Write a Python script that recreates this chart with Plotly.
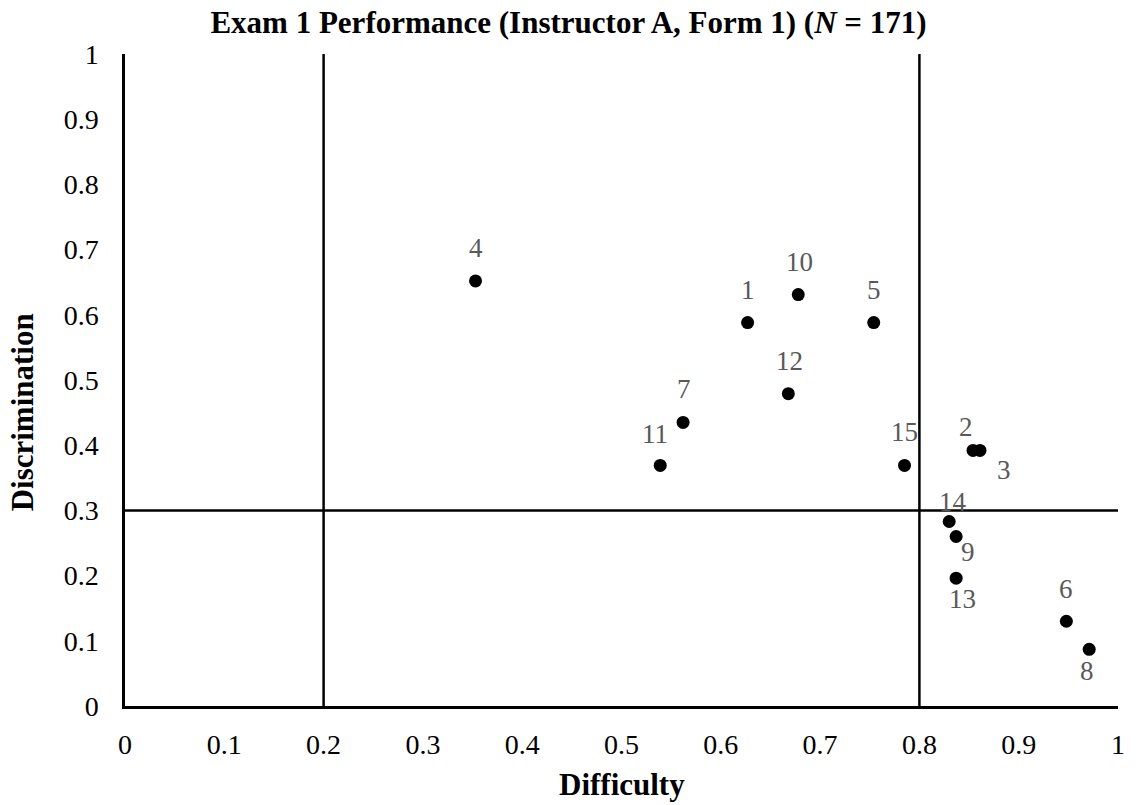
import plotly.graph_objects as go

# Item statistics for Exam 1 (Instructor A, Form 1)
items = ["1", "2", "3", "4", "5", "6", "7", "8", "9", "10", "11", "12", "13", "14", "15"]
difficulty = [0.627, 0.854, 0.861, 0.353, 0.754, 0.948, 0.562, 0.971, 0.837, 0.678,
              0.539, 0.668, 0.837, 0.830, 0.785]
discrimination = [0.588, 0.392, 0.392, 0.652, 0.588, 0.130, 0.435, 0.087, 0.260, 0.631,
                  0.369, 0.479, 0.196, 0.283, 0.369]

# Reference cut-offs
difficulty_cuts = [0.2, 0.8]
discrimination_cut = 0.3

# Label offsets (pixels) for each item number
label_dx = [0, -7, 24, 0, 0, 0, 1, -2, 12, 1, -5, 1, 6, 4, 0]
label_dy = [33, 23, -20, 33, 33, 32, 33, -22, -16, 33, 31, 33, -21, 19, 33]

FONT = "Liberation Serif, Times New Roman, serif"
TICK_SIZE = 28
TITLE_SIZE = 31

fig = go.Figure()

fig.add_trace(go.Scatter(
    x=difficulty, y=discrimination, mode="markers",
    marker=dict(color="black", size=13),
    hoverinfo="text", text=items, showlegend=False,
))

for lab, xv, yv, dx, dy in zip(items, difficulty, discrimination, label_dx, label_dy):
    fig.add_annotation(x=xv, y=yv, text=lab, showarrow=False,
                       xshift=dx, yshift=dy,
                       font=dict(family=FONT, size=27, color="#595959"))

for c in difficulty_cuts:
    fig.add_shape(type="line", xref="x", yref="y", x0=c, x1=c, y0=0, y1=1,
                  line=dict(color="black", width=2.5))
fig.add_shape(type="line", xref="x", yref="y", x0=0, x1=1,
              y0=discrimination_cut, y1=discrimination_cut,
              line=dict(color="black", width=2.5))

# Axis titles
fig.add_annotation(xref="paper", yref="paper", x=0.5, y=-0.121, yanchor="middle",
                   text="<b>Difficulty</b>", showarrow=False,
                   font=dict(family=FONT, size=TITLE_SIZE, color="black"))
fig.add_annotation(xref="paper", yref="y", x=-0.103, y=0.45, xanchor="center",
                   text="<b>Discrimination</b>", showarrow=False, textangle=-90,
                   font=dict(family=FONT, size=TITLE_SIZE, color="black"))

fig.update_layout(
    width=1137, height=805,
    margin=dict(l=125, r=12, t=54, b=99),
    paper_bgcolor="white", plot_bgcolor="white",
    font=dict(family=FONT, size=TICK_SIZE, color="black"),
    title=dict(text="<b>Exam 1 Performance (Instructor A, Form 1) (<i>N</i> = 171)</b>",
               x=0.5, xanchor="center", y=0.973, yanchor="middle",
               font=dict(family=FONT, size=TITLE_SIZE, color="black")),
    xaxis=dict(range=[0, 1], dtick=0.1, tick0=0, showgrid=False, zeroline=False,
               showline=True, linecolor="black", linewidth=2.5, ticks="",
               ticklabelstandoff=12,
               tickfont=dict(family=FONT, size=TICK_SIZE, color="black")),
    yaxis=dict(range=[0, 1], dtick=0.1, tick0=0, showgrid=False, zeroline=False,
               showline=True, linecolor="black", linewidth=2.5, ticks="",
               ticklabelstandoff=18,
               tickfont=dict(family=FONT, size=TICK_SIZE, color="black")),
)

fig.write_html("out.html")
